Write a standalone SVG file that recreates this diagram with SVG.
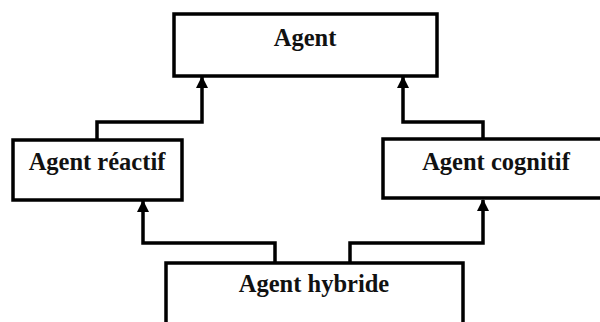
<svg xmlns="http://www.w3.org/2000/svg" width="600" height="322" viewBox="0 0 600 322">
  <defs>
    <marker id="arr" viewBox="0 0 12 14" refX="11" refY="7" markerWidth="12" markerHeight="14" markerUnits="userSpaceOnUse" orient="auto">
      <path d="M0,1 L12,7 L0,13 Z" fill="#000"/>
    </marker>
    <style>
      .box { fill: #fff; stroke: #000; stroke-width: 3.5; }
      .lbl { font-family: "Liberation Serif", "Times New Roman", serif; font-weight: bold; font-size: 24.5px; fill: #111; text-anchor: middle; }
      .conn { fill: none; stroke: #000; stroke-width: 3.5; stroke-linejoin: miter; marker-end: url(#arr); }
    </style>
  </defs>
  <rect x="0" y="0" width="600" height="322" fill="#fff"/>
  <g id="connectors">
    <path class="conn" d="M97,140 V122 H202 V77"/>
    <path class="conn" d="M483,139 V122 H403 V77"/>
    <path class="conn" d="M275,263 V243 H143 V201"/>
    <path class="conn" d="M350,263 V243 H483 V200"/>
  </g>
  <g id="agent">
    <rect class="box" x="174" y="14" width="263" height="62"/>
    <text class="lbl" x="305" y="46">Agent</text>
  </g>
  <g id="agent-reactif">
    <rect class="box" x="13" y="140" width="169" height="60"/>
    <text class="lbl" x="97" y="170">Agent réactif</text>
  </g>
  <g id="agent-cognitif">
    <rect class="box" x="383" y="139" width="226" height="59"/>
    <text class="lbl" x="496" y="170">Agent cognitif</text>
  </g>
  <g id="agent-hybride">
    <rect class="box" x="166" y="263" width="297" height="80"/>
    <text class="lbl" x="314" y="292">Agent hybride</text>
  </g>
</svg>
